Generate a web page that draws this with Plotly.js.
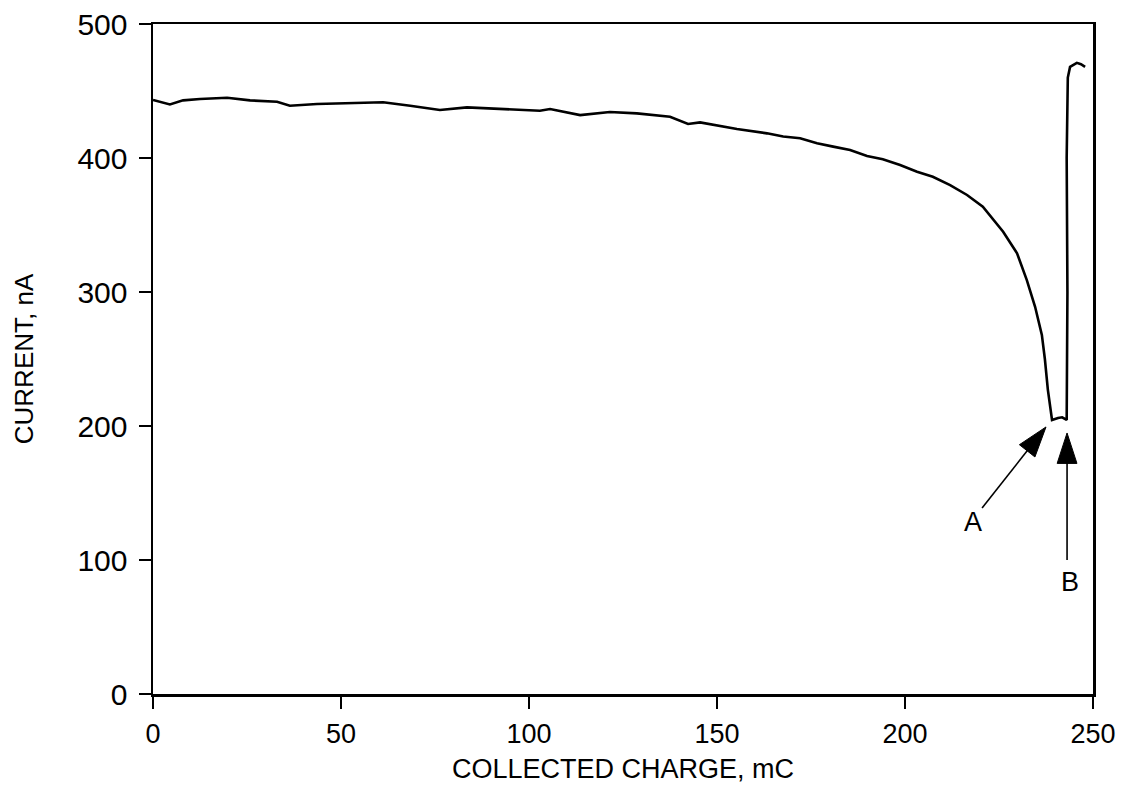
<!DOCTYPE html>
<html>
<head>
<meta charset="utf-8">
<script src="https://cdn.plot.ly/plotly-3.0.1.min.js"></script>
<style>
  html, body { margin: 0; padding: 0; background: #fff; }
  #chart { width: 1130px; height: 797px; }
</style>
</head>
<body>
<div id="chart"></div>
<script>
// Collected charge (mC)
const charge = [0, 4.5, 8.0, 12.5, 19.7, 25.8, 33.0, 36.4, 43.6, 52.4, 61.2, 68.4, 76.3, 83.5, 96.8,
  102.9, 105.6, 113.6, 121.5, 128.7, 137.5, 142.3, 145.5, 155.3, 163.3, 167.6, 172.1, 176.6, 180.9,
  185.4, 189.9, 194.1, 198.7, 203.2, 207.4, 212.0, 216.5, 220.7, 226.1, 229.8, 232.4, 234.0,
  234.6, 236.4, 237.2, 238.0, 238.8, 239.1, 240.7, 241.8, 243.0, 243.2, 243.0, 243.3, 243.9, 245.7,
  246.8, 247.9];
// Current (nA)
const current = [443.3, 440, 443, 444, 445, 443, 442, 439, 440.3, 441, 441.6, 439, 435.8, 437.8, 436.3,
  435.3, 436.5, 432, 434.3, 433.3, 430.8, 425.4, 426.6, 421.6, 418.4, 416, 414.7, 411, 408.5,
  406, 401.5, 399, 394.8, 389.8, 386, 379.8, 372.4, 363.7, 345, 328.9, 308.9, 294,
  289, 268, 250, 227, 207, 204.5, 206, 206.5, 204.5, 300, 400, 460, 468, 471,
  470, 468];

// Annotation arrows: [tail, tip]
const arrowA_x = [220.5, 237.5];
const arrowA_y = [138.8, 199.3];
const arrowB_x = [243.1, 243.1];
const arrowB_y = [100, 194.8];
const labelText = ['A', 'B'];
const labelX = [218.1, 243.9];
const labelY = [128.4, 83.6];

const xTicks = [0, 50, 100, 150, 200, 250];
const yTicks = [0, 100, 200, 300, 400, 500];

const FONT = 'Liberation Sans, Arial, Helvetica, sans-serif';

function arrowTrace(xs, ys) {
  return {
    x: xs, y: ys, mode: 'lines+markers', type: 'scatter',
    line: { color: '#000', width: 1.6 },
    marker: { symbol: 'arrow', size: [0, 32], color: '#000', opacity: 1, angleref: 'previous',
              line: { width: 1, color: '#000' } },
    hoverinfo: 'skip', showlegend: false, cliponaxis: false
  };
}

const traces = [
  {
    x: charge, y: current, type: 'scatter', mode: 'lines',
    line: { color: '#000', width: 2.6 },
    showlegend: false
  },
  arrowTrace(arrowA_x, arrowA_y),
  arrowTrace(arrowB_x, arrowB_y)
];

const annotations = labelText.map((t, i) => ({
  x: labelX[i], y: labelY[i], xref: 'x', yref: 'y', text: t, showarrow: false,
  font: { family: FONT, size: 27, color: '#000' }
}));

const axisCommon = {
  showgrid: false, zeroline: false, showline: true, mirror: true,
  linecolor: '#000', linewidth: 2.5,
  ticks: 'outside', ticklen: 12, tickwidth: 2.2, tickcolor: '#000'
};

const layout = {
  width: 1130, height: 797,
  margin: { l: 153, r: 37, t: 24, b: 103 },
  paper_bgcolor: '#fff', plot_bgcolor: '#fff',
  font: { family: FONT, color: '#000' },
  xaxis: Object.assign({}, axisCommon, {
    range: [0, 250], tickvals: xTicks, ticktext: xTicks.map(String),
    ticklabelstandoff: 2,
    tickfont: { family: FONT, size: 27, color: '#000' },
    title: { text: 'COLLECTED CHARGE, mC', font: { family: FONT, size: 27, color: '#000' }, standoff: 11 }
  }),
  yaxis: Object.assign({}, axisCommon, {
    range: [0, 500], tickvals: yTicks, ticktext: yTicks.map(String),
    ticklabelstandoff: 5,
    tickfont: { family: FONT, size: 30, color: '#000' },
    title: { text: 'CURRENT, nA', font: { family: FONT, size: 26, color: '#000' }, standoff: 37 }
  }),
  annotations: annotations
};

Plotly.newPlot('chart', traces, layout, { displayModeBar: false, staticPlot: true });
</script>
</body>
</html>
